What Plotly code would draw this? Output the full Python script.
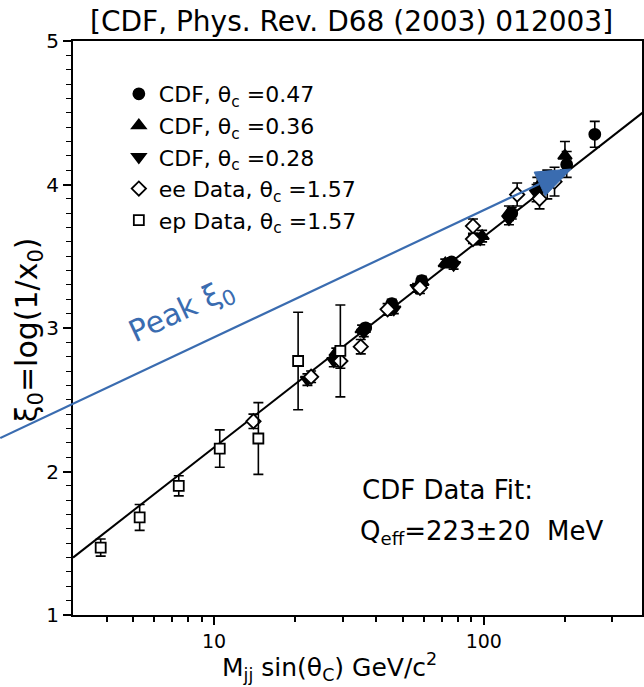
import plotly.graph_objects as go
import numpy as np

# ---------------- data ----------------
# CDF theta_c = 0.47 (filled circles)
cdf47_x = [36.5, 45.6, 58.9, 76.0, 93.0, 127.0, 159.0, 203.0, 258.0]
cdf47_y = [3.00, 3.17, 3.33, 3.46, 3.62, 3.80, 3.96, 4.14, 4.35]
cdf47_e = [0.03, 0.03, 0.03, 0.03, 0.03, 0.04, 0.05, 0.09, 0.09]
# CDF theta_c = 0.36 (filled up triangles)
cdf36_x = [28.4, 35.4, 45.8, 59.0, 72.0, 98.6, 124.0, 158.0, 200.0]
cdf36_y = [2.83, 2.99, 3.16, 3.32, 3.45, 3.64, 3.80, 3.98, 4.20]
cdf36_e = [0.03, 0.03, 0.03, 0.03, 0.03, 0.04, 0.05, 0.07, 0.10]
# CDF theta_c = 0.28 (filled down triangles)
cdf28_x = [22.2, 27.8, 35.9, 46.4, 56.6, 77.3, 97.0, 124.0, 157.0]
cdf28_y = [2.64, 2.77, 2.97, 3.13, 3.28, 3.44, 3.62, 3.76, 3.94]
cdf28_e = [0.04, 0.04, 0.03, 0.03, 0.03, 0.03, 0.04, 0.04, 0.06]
# e+e- data (open diamonds)
ee_x = [14.0, 22.9, 29.4, 35.0, 44.0, 58.0, 91.2, 91.2, 133.0, 161.0, 172.0, 183.0]
ee_y = [2.35, 2.66, 2.77, 2.87, 3.13, 3.28, 3.62, 3.71, 3.93, 3.90, 4.00, 4.02]
ee_e = [0.05, 0.04, 0.05, 0.05, 0.04, 0.04, 0.03, 0.05, 0.08, 0.07, 0.10, 0.10]
# e p data (open squares)
ep_x = [3.8, 5.3, 7.4, 10.5, 14.6, 20.5, 29.4]
ep_y = [1.47, 1.68, 1.90, 2.16, 2.23, 2.77, 2.84]
ep_e = [0.06, 0.09, 0.07, 0.13, 0.25, 0.34, 0.32]
# CDF data fit line
fit_x = [3.0, 400.0]
fit_y = [1.40, 4.52]

# ---------------- layout geometry (pixels) ----------------
W, H = 644, 687
L, R, T, B = 73, 644, 41, 615


def px(x):
    return (x - L) / (R - L)


def py(y):
    return (B - y) / (B - T)


FONT = "DejaVu Sans, Liberation Sans, Arial, sans-serif"
BLUE = "#3a6cb0"

fig = go.Figure()

fig.add_trace(go.Scatter(
    x=fit_x, y=fit_y, mode="lines", line=dict(color="black", width=2),
    showlegend=False, hoverinfo="skip"))


def err(e):
    return dict(type="data", array=e, visible=True, color="black", thickness=1.6, width=5)


series = [
    ("CDF, θ<sub>c</sub> =0.47", cdf47_x, cdf47_y, cdf47_e, "circle", "black", 11),
    ("CDF, θ<sub>c</sub> =0.36", cdf36_x, cdf36_y, cdf36_e, "triangle-up", "black", 12),
    ("CDF, θ<sub>c</sub> =0.28", cdf28_x, cdf28_y, cdf28_e, "triangle-down", "black", 12),
    ("ee Data, θ<sub>c</sub> =1.57", ee_x, ee_y, ee_e, "diamond", "white", 11),
    ("ep Data, θ<sub>c</sub> =1.57", ep_x, ep_y, ep_e, "square", "white", 10),
]
for i, (name, xs, ys, es, sym, col, sz) in enumerate(series):
    fig.add_trace(go.Scatter(
        x=xs, y=ys, mode="markers", name=name, legendgroup=f"g{i}",
        error_y=err(es),
        marker=dict(symbol=sym, color=col, size=sz, line=dict(color="black", width=1.8)),
    ))

# blue arrow "Peak xi_0"
tail = (0, 438)
base = (541, 184)
tri = [(535.8, 172.1), (573, 169), (546.8, 195.7)]
fig.add_shape(type="line", xref="paper", yref="paper",
              x0=px(tail[0]), y0=py(tail[1]), x1=px(base[0]), y1=py(base[1]),
              line=dict(color=BLUE, width=2.2))
path = "M {} {} L {} {} L {} {} Z".format(*[v for p in tri for v in (px(p[0]), py(p[1]))])
fig.add_shape(type="path", xref="paper", yref="paper", path=path,
              fillcolor=BLUE, line=dict(color=BLUE, width=1))

ann = []
ann.append(dict(text="Peak ξ<sub>0</sub>", x=px(182), y=py(311), xref="paper", yref="paper",
                xanchor="center", yanchor="middle",
                showarrow=False, textangle=-25, font=dict(size=30, color=BLUE, family=FONT)))
ann.append(dict(text="[CDF, Phys. Rev. D68 (2003) 012003]", x=px(352), y=py(22),
                xref="paper", yref="paper", xanchor="center", yanchor="middle", showarrow=False,
                font=dict(size=28, color="black", family=FONT)))
ann.append(dict(text="ξ<sub>0</sub>=log(1/x<sub>0</sub>)", x=px(28), y=py(330),
                xref="paper", yref="paper", xanchor="center", yanchor="middle",
                showarrow=False, textangle=-90,
                font=dict(size=30, color="black", family=FONT)))
ann.append(dict(text="M<sub>jj</sub> sin(θ<sub>C</sub>) GeV/c<sup>2</sup>", x=px(330), y=py(667),
                xref="paper", yref="paper", xanchor="center", yanchor="middle", showarrow=False,
                font=dict(size=25, color="black", family=FONT)))
ann.append(dict(text="CDF Data Fit:", x=px(361), y=py(490), xref="paper", yref="paper",
                xanchor="left", yanchor="middle", showarrow=False,
                font=dict(size=26, color="black", family=FONT)))
ann.append(dict(text="Q<sub>eff</sub>=223±20\u00a0\u00a0MeV", x=px(359), y=py(532),
                xref="paper", yref="paper", xanchor="left", yanchor="middle", showarrow=False,
                font=dict(size=26, color="black", family=FONT)))

fig.update_layout(
    width=W, height=H,
    margin=dict(l=L, r=W - R, t=T, b=H - B, pad=0),
    paper_bgcolor="white", plot_bgcolor="white",
    font=dict(family=FONT, color="black"),
    annotations=ann,
    legend=dict(x=px(119), y=py(73), xanchor="left", yanchor="top",
                font=dict(size=22, family=FONT, color="black"),
                bgcolor="rgba(0,0,0,0)", tracegroupgap=0, itemwidth=30),
    xaxis=dict(type="log", range=[np.log10(3), 2.5867], showgrid=False, zeroline=False,
               showline=True, linecolor="black", linewidth=2, mirror=True,
               ticks="outside", ticklen=8, tickwidth=1.5, tickcolor="black",
               tickvals=[10, 100], ticktext=["10", "100"],
               tickfont=dict(size=19, family=FONT),
               minor=dict(tickvals=[4, 5, 6, 7, 8, 9, 20, 30, 40, 50, 60, 70, 80, 90, 200, 300],
                          ticks="outside", ticklen=5, tickwidth=1.5, tickcolor="black")),
    yaxis=dict(range=[1, 5], showgrid=False, zeroline=False,
               showline=True, linecolor="black", linewidth=2, mirror=True,
               ticks="outside", ticklen=8, tickwidth=1.5, tickcolor="black",
               tickvals=[1, 2, 3, 4, 5], tickfont=dict(size=20, family=FONT),
               minor=dict(dtick=0.1, ticks="outside", ticklen=5, tickwidth=1.2, tickcolor="black")),
)

fig.write_html("out.html")
